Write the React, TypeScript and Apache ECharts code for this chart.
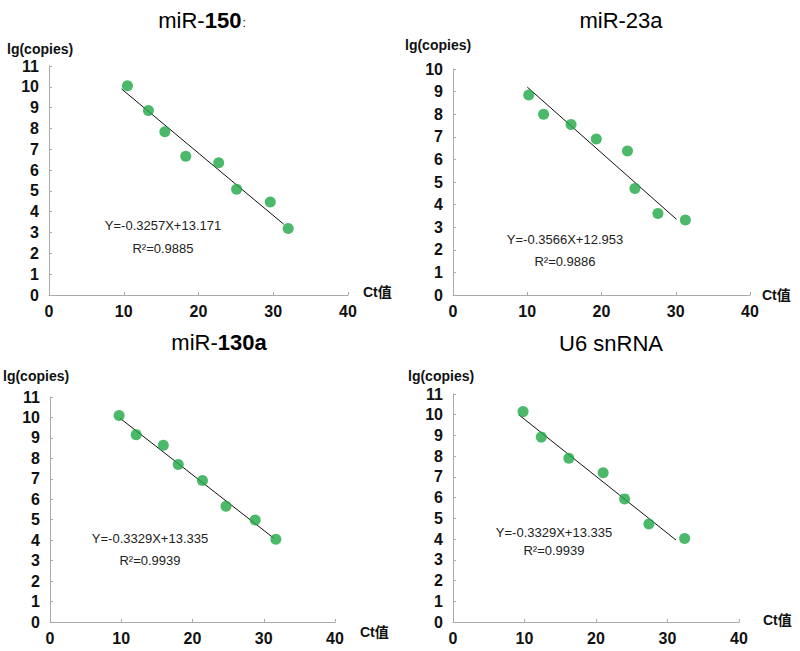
import React, { useEffect, useRef } from "react";
import * as echarts from "echarts";

// Ct values (x) and lg(copies) (y) for each assay
const ct150 = [10.5, 13.3, 15.5, 18.3, 22.7, 25.1, 29.6, 32.0];
const lg150 = [10.05, 8.86, 7.84, 6.67, 6.35, 5.08, 4.47, 3.19];
const fit150 = [[9.7, 9.9], [31.4, 3.4]];

const ct23a = [10.2, 12.2, 15.9, 19.3, 23.5, 24.5, 27.6, 31.3];
const lg23a = [8.85, 8.0, 7.54, 6.9, 6.37, 4.71, 3.61, 3.32];
const fit23a = [[10.0, 9.2], [30.1, 3.35]];

const ct130a = [9.7, 12.1, 15.9, 18.0, 21.4, 24.7, 28.8, 31.7];
const lg130a = [10.1, 9.16, 8.64, 7.7, 6.92, 5.66, 4.99, 4.05];
const fit130a = [[9.8, 9.97], [31.4, 4.1]];

const ctU6 = [9.8, 12.35, 16.2, 21.0, 24.0, 27.4, 32.4];
const lgU6 = [10.15, 8.92, 7.9, 7.2, 5.94, 4.73, 4.03];
const fitU6 = [[9.2, 10.0], [31.2, 3.95]];

const yMax = [11, 10, 11, 11];
const equations = ["Y=-0.3257X+13.171", "Y=-0.3566X+12.953", "Y=-0.3329X+13.335", "Y=-0.3329X+13.335"];
const r2 = ["R²=0.9885", "R²=0.9886", "R²=0.9939", "R²=0.9939"];

const panels = [
  { ct: ct150, lg: lg150, fit: fit150 },
  { ct: ct23a, lg: lg23a, fit: fit23a },
  { ct: ct130a, lg: lg130a, fit: fit130a },
  { ct: ctU6, lg: lgU6, fit: fitU6 },
];

const grids = [
  { left: 49, top: 66, width: 299, height: 229 },
  { left: 453, top: 69, width: 297, height: 226 },
  { left: 50, top: 397, width: 285, height: 225 },
  { left: 453, top: 394, width: 286, height: 228 },
];

const titlePos = [
  { x: 202, y: 20 },
  { x: 621, y: 20 },
  { x: 219, y: 342 },
  { x: 611, y: 343 },
];
const eqPos = [
  { x: 163, y: 225, y2: 248 },
  { x: 565, y: 239, y2: 261 },
  { x: 150, y: 538, y2: 560 },
  { x: 554, y: 532, y2: 550 },
];
const lgPos = [
  { x: 7, y: 49 },
  { x: 405, y: 45 },
  { x: 3, y: 376 },
  { x: 408, y: 376 },
];
const ctPos = [
  { x: 363, y: 292 },
  { x: 762, y: 295 },
  { x: 360, y: 632 },
  { x: 763, y: 620 },
];

const FONT = "Arial, 'Liberation Sans', sans-serif";
const GREEN = "#1fa845";

export default function App() {
  const ref = useRef<HTMLDivElement>(null);
  useEffect(() => {
    if (!ref.current) return;
    const chart = echarts.init(ref.current, undefined, { renderer: "svg" });

    const axisCommon = {
      axisLine: { show: true, lineStyle: { color: "#aaaaaa", width: 1 } },
      axisTick: { show: true, inside: true, length: 3, lineStyle: { color: "#aaaaaa" } },
      splitLine: { show: false },
      axisLabel: { color: "#111", fontWeight: "bold" as const, fontSize: 16, fontFamily: FONT },
    };

    const xAxis = grids.map((_, i) => ({
      type: "value" as const,
      gridIndex: i,
      min: 0,
      max: 40,
      interval: 10,
      ...axisCommon,
      axisLabel: { ...axisCommon.axisLabel, margin: 8 },
    }));
    const yAxis = grids.map((_, i) => ({
      type: "value" as const,
      gridIndex: i,
      min: 0,
      max: yMax[i],
      interval: 1,
      ...axisCommon,
      axisLabel: { ...axisCommon.axisLabel, margin: 10 },
    }));

    const series: any[] = [];
    panels.forEach((p, i) => {
      series.push({
        type: "line",
        xAxisIndex: i,
        yAxisIndex: i,
        data: p.fit,
        symbol: "none",
        lineStyle: { color: "#111", width: 1 },
        z: 2,
      });
      series.push({
        type: "scatter",
        xAxisIndex: i,
        yAxisIndex: i,
        data: p.ct.map((c, k) => [c, p.lg[k]]),
        symbolSize: 11,
        itemStyle: { color: GREEN },
        z: 3,
      });
    });

    const titleRich = {
      a: { fontSize: 22, fontFamily: FONT, color: "#111", fontWeight: "normal" as const },
      b: { fontSize: 22, fontFamily: FONT, color: "#111", fontWeight: "bold" as const },
      c: { fontSize: 12, fontFamily: FONT, color: "#777", fontWeight: "normal" as const, padding: [6, 0, 0, 1] },
    };
    const titles = [
      "{a|miR-}{b|150}{c|:}",
      "{a|miR-23a}",
      "{a|miR-}{b|130a}",
      "{a|U6 snRNA}",
    ];

    const graphic: any[] = [];
    titles.forEach((t, i) => {
      graphic.push({
        type: "text",
        x: titlePos[i].x,
        y: titlePos[i].y,
        style: { text: t, rich: titleRich, align: "center", verticalAlign: "middle" },
      });
      graphic.push({
        type: "text",
        x: eqPos[i].x,
        y: eqPos[i].y,
        style: { text: equations[i], font: `13px ${FONT}`, fill: "#222", align: "center", verticalAlign: "middle" },
      });
      graphic.push({
        type: "text",
        x: eqPos[i].x,
        y: eqPos[i].y2,
        style: { text: r2[i], font: `13px ${FONT}`, fill: "#222", align: "center", verticalAlign: "middle" },
      });
      graphic.push({
        type: "text",
        x: lgPos[i].x,
        y: lgPos[i].y,
        style: { text: "lg(copies)", font: `bold 14px ${FONT}`, fill: "#111", align: "left", verticalAlign: "middle" },
      });
      graphic.push({
        type: "text",
        x: ctPos[i].x,
        y: ctPos[i].y,
        style: { text: "Ct值", font: `bold 14px ${FONT}, 'Noto Sans CJK SC'`, fill: "#111", align: "left", verticalAlign: "middle" },
      });
    });

    chart.setOption({
      animation: false,
      backgroundColor: "#ffffff",
      grid: grids.map((g) => ({ ...g, containLabel: false })),
      xAxis,
      yAxis,
      series,
      graphic,
    });
    return () => chart.dispose();
  }, []);

  return (
    <div
      ref={ref}
      style={{ position: "fixed", left: 0, top: 0, width: 800, height: 651, background: "#fff" }}
    />
  );
}
